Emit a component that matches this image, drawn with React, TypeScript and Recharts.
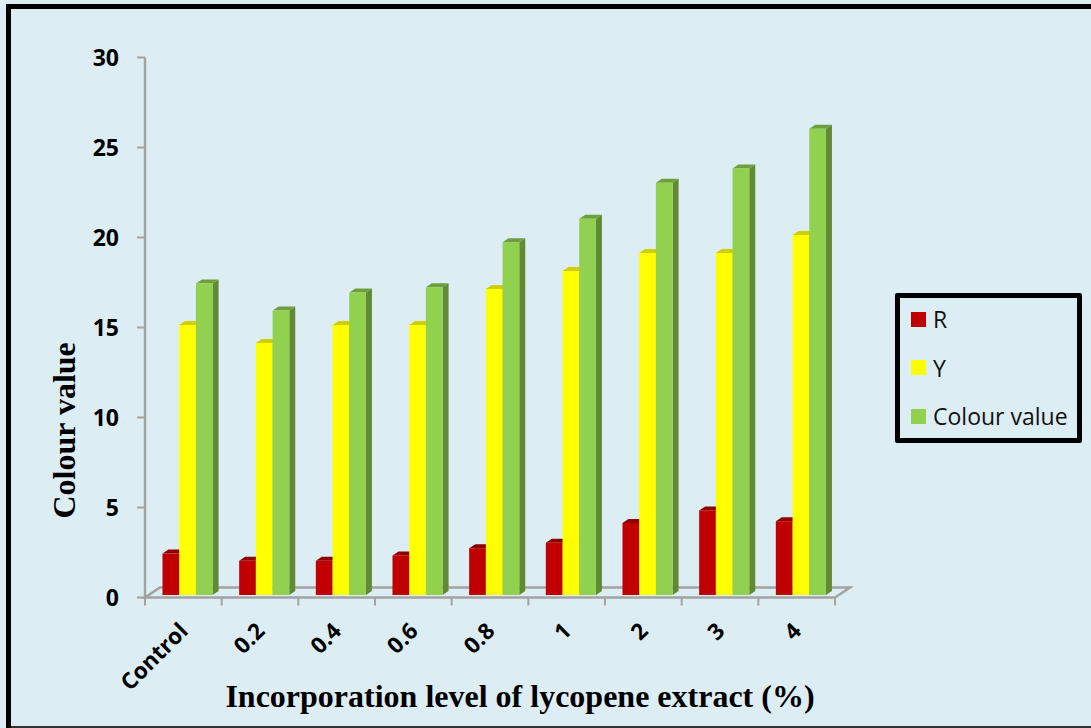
import React from 'react';
import { BarChart, Bar, XAxis, YAxis, Legend, Label } from 'recharts';

const categories = ['Control', '0.2', '0.4', '0.6', '0.8', '1', '2', '3', '4'];
const rValues = [2.3, 1.9, 1.9, 2.2, 2.6, 2.9, 4.0, 4.7, 4.1];
const yValues = [15, 14, 15, 15, 17, 18, 19, 19, 20];
const colourValues = [17.3, 15.8, 16.8, 17.1, 19.6, 20.9, 22.9, 23.7, 25.9];
const yTicks = [0, 5, 10, 15, 20, 25, 30];
const data = categories.map((c, i) => ({ c, r: rValues[i], y: yValues[i], v: colourValues[i] }));

const W = 1091, H = 728;
const L = 145, R = 835, T = 57.5, B = 597.5;
const GREY = '#A3A3A3';
const TICK_FONT = '"Open Sans", sans-serif';

function Bar3D(props: any) {
  const { x, y, width, height, fill, cap, side } = props;
  const dx = 6, dy = 4;
  const x0 = x + 4.5, x1 = x0 + width;
  const top = y - 2.5, bot = y + height - 2.5;
  return (
    <g>
      <polygon points={`${x1},${bot} ${x1 + dx},${bot - dy} ${x1 + dx},${top - dy} ${x1},${top}`} fill={side} />
      <polygon points={`${x0},${top} ${x0 + dx},${top - dy} ${x1 + dx},${top - dy} ${x1},${top}`} fill={cap} />
      <rect x={x0} y={top} width={width} height={height} fill={fill} />
    </g>
  );
}

function XTick(props: any) {
  const { x, y, payload } = props;
  return (
    <text x={x + 6} y={y + 27} transform={`rotate(-45 ${x + 6} ${y + 27})`} textAnchor="end"
      fontFamily={TICK_FONT} fontWeight={700} fontSize={22.5} fill="#000">{payload.value}</text>
  );
}

function LegendBox(props: any) {
  const rows = props.payload || [];
  return (
    <div style={{ width: 187, height: 150, boxSizing: 'border-box', border: '5px solid #000', borderRadius: 2, position: 'relative', fontFamily: TICK_FONT, fontSize: 23, color: '#111' }}>
      {rows.map((p: any, i: number) => (
        <div key={p.value} style={{ position: 'absolute', left: 11, top: 6 + i * 48.5, display: 'flex', alignItems: 'center', height: 30, whiteSpace: 'nowrap' }}>
          <span style={{ width: 15, height: 15, background: p.color, marginRight: 7, display: 'inline-block' }} />
          <span>{p.value}</span>
        </div>
      ))}
    </div>
  );
}

export default function App() {
  const band = (R - L) / categories.length;
  return (
    <div style={{ position: 'fixed', left: 0, top: 0, width: W, height: H, background: '#DCEEF4', overflow: 'hidden' }}>
      <div style={{ position: 'absolute', left: 6, top: 4, width: 5, height: 724, background: '#000' }} />
      <div style={{ position: 'absolute', left: 6, top: 4, width: 1085, height: 5, background: '#000' }} />
      <div style={{ position: 'absolute', left: 11, top: 726, width: 1080, height: 2, background: '#333' }} />
      <BarChart width={W} height={H} data={data} barSize={16.7} barGap={0}
        margin={{ left: 0, right: W - R, top: T, bottom: 0 }} style={{ position: 'absolute', left: 0, top: 0 }}>
        <polygon points={`${L},${B} ${R},${B} ${R + 15},${B - 10} ${L + 15},${B - 10}`} fill="none" stroke={GREY} strokeWidth={2.5} />
        {categories.concat('').map((_, i) => (
          <line key={i} x1={L + i * band} x2={L + i * band} y1={B} y2={B + 8} stroke={GREY} strokeWidth={2} />
        ))}
        <XAxis dataKey="c" height={H - B} interval={0} axisLine={false} tickLine={false} tick={<XTick />}>
          <Label value="Incorporation level of lycopene extract (%)" position="insideBottom" dx={30} dy={-16}
            style={{ fontFamily: '"Liberation Serif", serif', fontWeight: 700, fontSize: 32, fill: '#000' }} />
        </XAxis>
        <YAxis width={L} domain={[0, 30]} ticks={yTicks} interval={0} tickSize={8} tickMargin={18}
          axisLine={{ stroke: GREY, strokeWidth: 2.5 }} tickLine={{ stroke: GREY, strokeWidth: 2 }}
          tick={{ fontFamily: TICK_FONT, fontWeight: 700, fontSize: 23, fill: '#000' }}>
          <Label value="Colour value" angle={-90} position="insideLeft" dx={59} dy={191}
            style={{ fontFamily: '"Liberation Serif", serif', fontWeight: 700, fontSize: 32, fill: '#000' }} />
        </YAxis>
        <Bar dataKey="r" name="R" fill="#C00000" isAnimationActive={false} shape={(p: any) => <Bar3D {...p} cap="#8E0000" side="#800000" />} />
        <Bar dataKey="y" name="Y" fill="#FFFF00" isAnimationActive={false} shape={(p: any) => <Bar3D {...p} cap="#CFCF00" side="#B0B000" />} />
        <Bar dataKey="v" name="Colour value" fill="#92D050" isAnimationActive={false} shape={(p: any) => <Bar3D {...p} cap="#6F9F3C" side="#608A33" />} />
        <Legend layout="vertical" align="center" verticalAlign="middle" content={<LegendBox />} itemSorter={null}
          wrapperStyle={{ left: 895, top: 293, width: 187, height: 150 }} />
      </BarChart>
    </div>
  );
}
